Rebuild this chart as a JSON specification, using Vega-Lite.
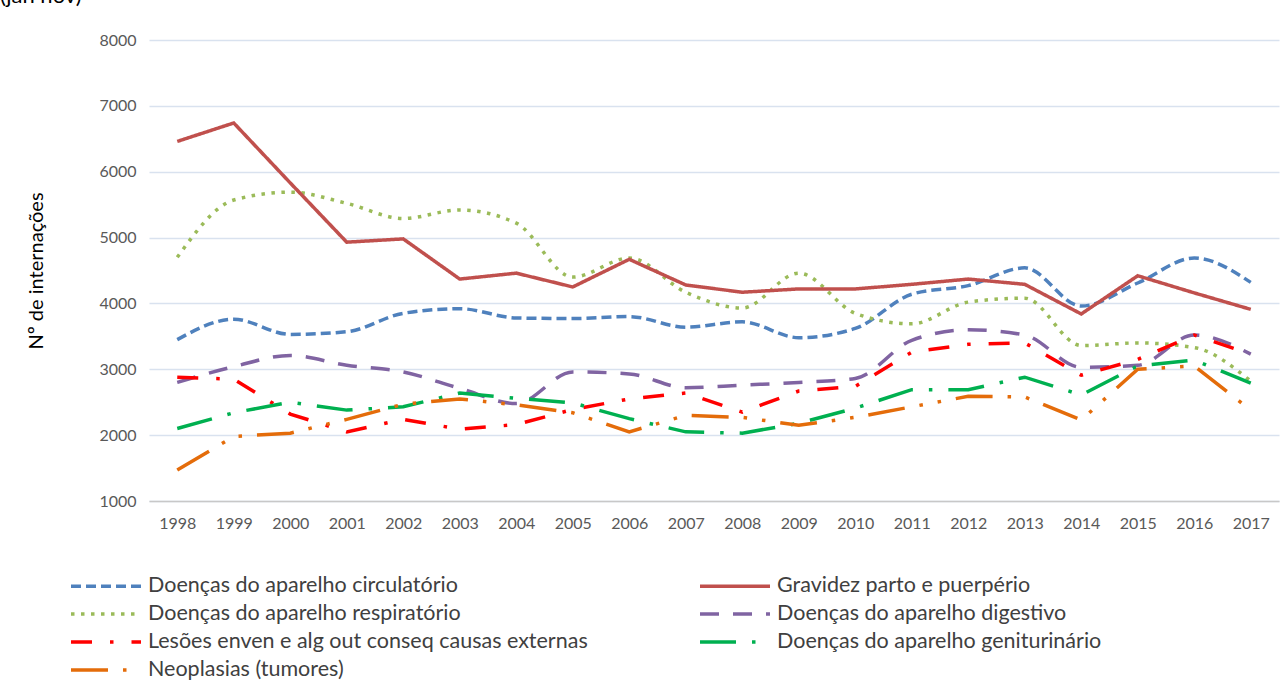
{
  "$schema": "https://vega.github.io/schema/vega-lite/v6.json",
  "autosize": {"type": "none"},
  "padding": {"left": 149, "top": 40, "right": 2, "bottom": 188},
  "width": 1130,
  "height": 461,
  "background": "white",
  "title": {"text": "(jan nov)", "anchor": "start", "frame": "group", "dx": -149, "offset": 24, "fontSize": 22, "font": "Lato", "fontWeight": "normal", "color": "#000000"},
  "config": {"view": {"stroke": null}, "font": "Lato"},
  "data": {"values": [
    {"ano":"1998","s":"Doenças do aparelho circulatório","v":3450},{"ano":"1999","s":"Doenças do aparelho circulatório","v":3760},{"ano":"2000","s":"Doenças do aparelho circulatório","v":3530},{"ano":"2001","s":"Doenças do aparelho circulatório","v":3570},{"ano":"2002","s":"Doenças do aparelho circulatório","v":3850},{"ano":"2003","s":"Doenças do aparelho circulatório","v":3920},{"ano":"2004","s":"Doenças do aparelho circulatório","v":3780},{"ano":"2005","s":"Doenças do aparelho circulatório","v":3770},{"ano":"2006","s":"Doenças do aparelho circulatório","v":3800},{"ano":"2007","s":"Doenças do aparelho circulatório","v":3640},{"ano":"2008","s":"Doenças do aparelho circulatório","v":3720},{"ano":"2009","s":"Doenças do aparelho circulatório","v":3480},{"ano":"2010","s":"Doenças do aparelho circulatório","v":3620},{"ano":"2011","s":"Doenças do aparelho circulatório","v":4140},{"ano":"2012","s":"Doenças do aparelho circulatório","v":4270},{"ano":"2013","s":"Doenças do aparelho circulatório","v":4540},{"ano":"2014","s":"Doenças do aparelho circulatório","v":3960},{"ano":"2015","s":"Doenças do aparelho circulatório","v":4310},{"ano":"2016","s":"Doenças do aparelho circulatório","v":4690},{"ano":"2017","s":"Doenças do aparelho circulatório","v":4320},
    {"ano":"1998","s":"Gravidez parto e puerpério","v":6460},{"ano":"1999","s":"Gravidez parto e puerpério","v":6740},{"ano":"2000","s":"Gravidez parto e puerpério","v":5830},{"ano":"2001","s":"Gravidez parto e puerpério","v":4930},{"ano":"2002","s":"Gravidez parto e puerpério","v":4980},{"ano":"2003","s":"Gravidez parto e puerpério","v":4370},{"ano":"2004","s":"Gravidez parto e puerpério","v":4460},{"ano":"2005","s":"Gravidez parto e puerpério","v":4250},{"ano":"2006","s":"Gravidez parto e puerpério","v":4670},{"ano":"2007","s":"Gravidez parto e puerpério","v":4280},{"ano":"2008","s":"Gravidez parto e puerpério","v":4170},{"ano":"2009","s":"Gravidez parto e puerpério","v":4220},{"ano":"2010","s":"Gravidez parto e puerpério","v":4220},{"ano":"2011","s":"Gravidez parto e puerpério","v":4290},{"ano":"2012","s":"Gravidez parto e puerpério","v":4370},{"ano":"2013","s":"Gravidez parto e puerpério","v":4290},{"ano":"2014","s":"Gravidez parto e puerpério","v":3840},{"ano":"2015","s":"Gravidez parto e puerpério","v":4420},{"ano":"2016","s":"Gravidez parto e puerpério","v":4160},{"ano":"2017","s":"Gravidez parto e puerpério","v":3910},
    {"ano":"1998","s":"Doenças do aparelho respiratório","v":4700},{"ano":"1999","s":"Doenças do aparelho respiratório","v":5570},{"ano":"2000","s":"Doenças do aparelho respiratório","v":5690},{"ano":"2001","s":"Doenças do aparelho respiratório","v":5520},{"ano":"2002","s":"Doenças do aparelho respiratório","v":5290},{"ano":"2003","s":"Doenças do aparelho respiratório","v":5420},{"ano":"2004","s":"Doenças do aparelho respiratório","v":5220},{"ano":"2005","s":"Doenças do aparelho respiratório","v":4400},{"ano":"2006","s":"Doenças do aparelho respiratório","v":4690},{"ano":"2007","s":"Doenças do aparelho respiratório","v":4170},{"ano":"2008","s":"Doenças do aparelho respiratório","v":3930},{"ano":"2009","s":"Doenças do aparelho respiratório","v":4460},{"ano":"2010","s":"Doenças do aparelho respiratório","v":3850},{"ano":"2011","s":"Doenças do aparelho respiratório","v":3690},{"ano":"2012","s":"Doenças do aparelho respiratório","v":4020},{"ano":"2013","s":"Doenças do aparelho respiratório","v":4080},{"ano":"2014","s":"Doenças do aparelho respiratório","v":3360},{"ano":"2015","s":"Doenças do aparelho respiratório","v":3400},{"ano":"2016","s":"Doenças do aparelho respiratório","v":3330},{"ano":"2017","s":"Doenças do aparelho respiratório","v":2820},
    {"ano":"1998","s":"Doenças do aparelho digestivo","v":2800},{"ano":"1999","s":"Doenças do aparelho digestivo","v":3040},{"ano":"2000","s":"Doenças do aparelho digestivo","v":3210},{"ano":"2001","s":"Doenças do aparelho digestivo","v":3060},{"ano":"2002","s":"Doenças do aparelho digestivo","v":2960},{"ano":"2003","s":"Doenças do aparelho digestivo","v":2710},{"ano":"2004","s":"Doenças do aparelho digestivo","v":2480},{"ano":"2005","s":"Doenças do aparelho digestivo","v":2960},{"ano":"2006","s":"Doenças do aparelho digestivo","v":2930},{"ano":"2007","s":"Doenças do aparelho digestivo","v":2720},{"ano":"2008","s":"Doenças do aparelho digestivo","v":2760},{"ano":"2009","s":"Doenças do aparelho digestivo","v":2800},{"ano":"2010","s":"Doenças do aparelho digestivo","v":2860},{"ano":"2011","s":"Doenças do aparelho digestivo","v":3440},{"ano":"2012","s":"Doenças do aparelho digestivo","v":3600},{"ano":"2013","s":"Doenças do aparelho digestivo","v":3520},{"ano":"2014","s":"Doenças do aparelho digestivo","v":3030},{"ano":"2015","s":"Doenças do aparelho digestivo","v":3060},{"ano":"2016","s":"Doenças do aparelho digestivo","v":3520},{"ano":"2017","s":"Doenças do aparelho digestivo","v":3230},
    {"ano":"1998","s":" Lesões enven e alg out conseq causas externas","v":2880},{"ano":"1999","s":" Lesões enven e alg out conseq causas externas","v":2850},{"ano":"2000","s":" Lesões enven e alg out conseq causas externas","v":2320},{"ano":"2001","s":" Lesões enven e alg out conseq causas externas","v":2050},{"ano":"2002","s":" Lesões enven e alg out conseq causas externas","v":2240},{"ano":"2003","s":" Lesões enven e alg out conseq causas externas","v":2090},{"ano":"2004","s":" Lesões enven e alg out conseq causas externas","v":2160},{"ano":"2005","s":" Lesões enven e alg out conseq causas externas","v":2390},{"ano":"2006","s":" Lesões enven e alg out conseq causas externas","v":2550},{"ano":"2007","s":" Lesões enven e alg out conseq causas externas","v":2640},{"ano":"2008","s":" Lesões enven e alg out conseq causas externas","v":2350},{"ano":"2009","s":" Lesões enven e alg out conseq causas externas","v":2670},{"ano":"2010","s":" Lesões enven e alg out conseq causas externas","v":2740},{"ano":"2011","s":" Lesões enven e alg out conseq causas externas","v":3260},{"ano":"2012","s":" Lesões enven e alg out conseq causas externas","v":3380},{"ano":"2013","s":" Lesões enven e alg out conseq causas externas","v":3400},{"ano":"2014","s":" Lesões enven e alg out conseq causas externas","v":2910},{"ano":"2015","s":" Lesões enven e alg out conseq causas externas","v":3150},{"ano":"2016","s":" Lesões enven e alg out conseq causas externas","v":3520},{"ano":"2017","s":" Lesões enven e alg out conseq causas externas","v":3230},
    {"ano":"1998","s":"Doenças do aparelho geniturinário","v":2100},{"ano":"1999","s":"Doenças do aparelho geniturinário","v":2340},{"ano":"2000","s":"Doenças do aparelho geniturinário","v":2500},{"ano":"2001","s":"Doenças do aparelho geniturinário","v":2380},{"ano":"2002","s":"Doenças do aparelho geniturinário","v":2430},{"ano":"2003","s":"Doenças do aparelho geniturinário","v":2640},{"ano":"2004","s":"Doenças do aparelho geniturinário","v":2560},{"ano":"2005","s":"Doenças do aparelho geniturinário","v":2490},{"ano":"2006","s":"Doenças do aparelho geniturinário","v":2250},{"ano":"2007","s":"Doenças do aparelho geniturinário","v":2050},{"ano":"2008","s":"Doenças do aparelho geniturinário","v":2030},{"ano":"2009","s":"Doenças do aparelho geniturinário","v":2180},{"ano":"2010","s":"Doenças do aparelho geniturinário","v":2410},{"ano":"2011","s":"Doenças do aparelho geniturinário","v":2690},{"ano":"2012","s":"Doenças do aparelho geniturinário","v":2690},{"ano":"2013","s":"Doenças do aparelho geniturinário","v":2880},{"ano":"2014","s":"Doenças do aparelho geniturinário","v":2610},{"ano":"2015","s":"Doenças do aparelho geniturinário","v":3050},{"ano":"2016","s":"Doenças do aparelho geniturinário","v":3140},{"ano":"2017","s":"Doenças do aparelho geniturinário","v":2790},
    {"ano":"1998","s":"Neoplasias (tumores)","v":1470},{"ano":"1999","s":"Neoplasias (tumores)","v":1980},{"ano":"2000","s":"Neoplasias (tumores)","v":2030},{"ano":"2001","s":"Neoplasias (tumores)","v":2240},{"ano":"2002","s":"Neoplasias (tumores)","v":2470},{"ano":"2003","s":"Neoplasias (tumores)","v":2550},{"ano":"2004","s":"Neoplasias (tumores)","v":2460},{"ano":"2005","s":"Neoplasias (tumores)","v":2340},{"ano":"2006","s":"Neoplasias (tumores)","v":2050},{"ano":"2007","s":"Neoplasias (tumores)","v":2300},{"ano":"2008","s":"Neoplasias (tumores)","v":2270},{"ano":"2009","s":"Neoplasias (tumores)","v":2150},{"ano":"2010","s":"Neoplasias (tumores)","v":2270},{"ano":"2011","s":"Neoplasias (tumores)","v":2430},{"ano":"2012","s":"Neoplasias (tumores)","v":2590},{"ano":"2013","s":"Neoplasias (tumores)","v":2580},{"ano":"2014","s":"Neoplasias (tumores)","v":2230},{"ano":"2015","s":"Neoplasias (tumores)","v":3000},{"ano":"2016","s":"Neoplasias (tumores)","v":3050},{"ano":"2017","s":"Neoplasias (tumores)","v":2380}
  ]},
  "encoding": {
    "x": {"field": "ano", "type": "ordinal", "scale": {"type": "point", "padding": 0.5},
      "axis": {"title": null, "labelAngle": 0, "ticks": false, "grid": false, "domainColor": "#C8C8C8", "domainWidth": 1.5, "labelFontSize": 16, "labelColor": "#595959", "labelPadding": 14}},
    "y": {"field": "v", "type": "quantitative", "scale": {"domain": [1000, 8000], "nice": false},
      "axis": {"title": "Nº de internações", "format": "d", "values": [1000,2000,3000,4000,5000,6000,7000,8000], "domain": false, "ticks": false, "gridColor": "#D9E2EF", "gridWidth": 1.5, "labelFontSize": 16, "labelColor": "#595959", "labelPadding": 13, "titleFontSize": 20, "titleFontWeight": "normal", "titleColor": "#000000", "titlePadding": 52}},
    "color": {"field": "s", "type": "nominal",
      "scale": {"domain": ["Doenças do aparelho circulatório","Doenças do aparelho respiratório"," Lesões enven e alg out conseq causas externas","Neoplasias (tumores)","Gravidez parto e puerpério","Doenças do aparelho digestivo","Doenças do aparelho geniturinário"],
        "range": ["#4F81BD","#9BBB59","#FF0000","#E46C0A","#C0504D","#8064A2","#00B050"]},
      "legend": {"title": null, "orient": "none", "legendX": -55, "legendY": 534, "columns": 2, "columnPadding": 105, "rowPadding": 5, "symbolType": "M-3.5,0H3.5", "symbolSize": 400, "symbolStrokeWidth": 3.5, "labelFontSize": 21.5, "labelColor": "#404040", "labelOffset": 30, "labelLimit": 700}},
    "strokeDash": {"field": "s", "type": "nominal",
      "scale": {"domain": ["Doenças do aparelho circulatório","Doenças do aparelho respiratório"," Lesões enven e alg out conseq causas externas","Neoplasias (tumores)","Gravidez parto e puerpério","Doenças do aparelho digestivo","Doenças do aparelho geniturinário"],
        "range": [[10,5],[3.5,6.5],[21,18,3.5,18],[37,15,3.5,15,3.5,15],[1,0],[19,14],[36,16,3.5,16]]}}
  },
  "layer": [
    {"transform": [{"filter": {"field": "s", "oneOf": ["Doenças do aparelho circulatório","Doenças do aparelho respiratório","Doenças do aparelho digestivo"]}}],
     "mark": {"type": "line", "interpolate": "monotone", "strokeWidth": 3.5}},
    {"transform": [{"filter": {"field": "s", "oneOf": ["Gravidez parto e puerpério"," Lesões enven e alg out conseq causas externas","Doenças do aparelho geniturinário","Neoplasias (tumores)"]}}],
     "mark": {"type": "line", "strokeWidth": 3.5}}
  ]
}
